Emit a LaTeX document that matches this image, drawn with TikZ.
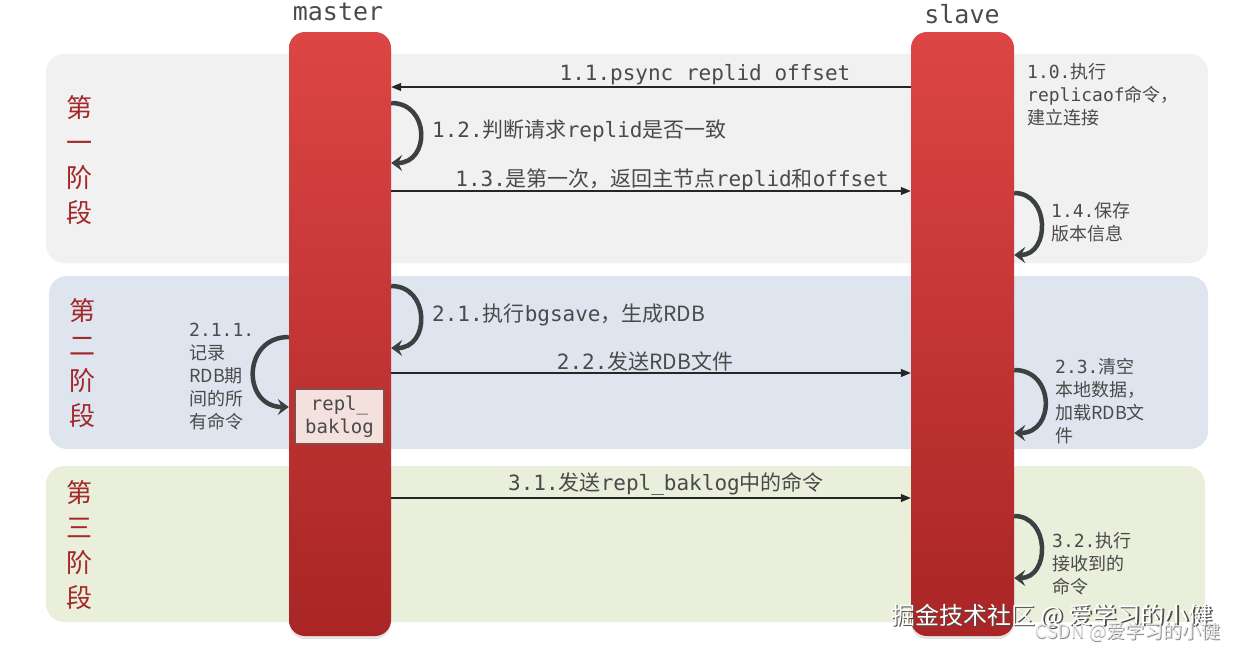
\documentclass[tikz,border=0pt]{standalone}
\usepackage{fontspec}
\setmainfont{DejaVu Sans Mono}
\newfontfamily\cjk{Noto Sans CJK SC}
\newcommand\zh[1]{{\cjk #1}}
\usetikzlibrary{arrows.meta,shadows}
\definecolor{bandA}{HTML}{F1F1F1}
\definecolor{bandB}{HTML}{DEE5EF}
\definecolor{bandC}{HTML}{E9EFDB}
\definecolor{barTop}{HTML}{DC4644}
\definecolor{barBot}{HTML}{A92525}
\definecolor{txt}{HTML}{4A4A4A}
\definecolor{loopc}{HTML}{3B4141}
\definecolor{stagec}{HTML}{A3282A}
\definecolor{logfill}{HTML}{F4E0DC}
\definecolor{logedge}{HTML}{8B4B45}
\tikzset{
  band/.style={rounded corners=18pt, inner sep=0pt, draw=none},
  bar/.style={rounded corners=16pt, minimum width=102pt, minimum height=604pt, inner sep=0pt,
     top color=barTop, bottom color=barBot, draw=none,
     drop shadow={opacity=0.22, shadow xshift=0pt, shadow yshift=-3pt}},
  head/.style={font=\fontsize{25}{28}\selectfont, text=txt, inner sep=0pt},
  stage/.style={font=\cjk\fontsize{26}{35}\selectfont, text=stagec, align=center, inner sep=0pt},
  msglabel/.style={font=\fontsize{21}{24}\selectfont, text=txt, inner sep=0pt},
  sidelabel/.style={font=\fontsize{18}{23}\selectfont, text=txt, align=left, inner sep=0pt, anchor=west},
  msg/.style={draw=black!85, line width=1.1pt, -{Triangle[length=10pt,width=8pt]}},
  loopar/.style={draw=loopc, line width=4.5pt, -{Stealth[length=11pt,width=16pt,inset=4pt]}},
}
\begin{document}
\begin{tikzpicture}[x=1pt,y=-1pt]
\useasboundingbox (0,0) rectangle (1239,649);
% bands
\node[band, fill=bandA, minimum width=1162pt, minimum height=209pt] (b1) at (627,158.5) {};
\node[band, fill=bandB, minimum width=1159pt, minimum height=173pt] (b2) at (628.5,362.5) {};
\node[band, fill=bandC, minimum width=1159pt, minimum height=156pt] (b3) at (625.5,544) {};
% stage labels
\node[stage] (s1) at (79,160) {第\\一\\阶\\段};
\node[stage] (s2) at (82,363) {第\\二\\阶\\段};
\node[stage] (s3) at (79,545) {第\\三\\阶\\段};
% bars
\node[bar] (master) at (340,334) {};
\node[bar, minimum width=103pt] (slave) at (962.5,334) {};
\node[head] (mlab) at (338,12) {master};
\node[head] (slab) at (962,14) {slave};
% repl_baklog
\node[draw=logedge, line width=2.5pt, fill=logfill, minimum width=89pt, minimum height=55pt,
      inner sep=0pt, align=center, text=txt, font=\fontsize{19}{23}\selectfont] (repl) at (339.5,416.5) {repl\_\\baklog};
% phase 1
\draw[msg] (slave.west |- 0,87) -- (master.east |- 0,87);
\node[msglabel] (l11) at (705,75) {1.1.psync replid offset};
\draw[loopar] (master.east |- 0,103) .. controls +(39,0) and +(39,0) .. (master.east |- 0,163);
\node[msglabel, anchor=west] (l12) at (432,131) {1.2.\zh{判断请求}replid\zh{是否一致}};
\draw[msg] (master.east |- 0,191) -- (slave.west |- 0,191);
\node[msglabel] (l13) at (672,180) {1.3.\zh{是第一次，返回主节点}replid\zh{和}offset};
\node[sidelabel] (l10) at (1027,95) {1.0.\zh{执行}\\replicaof\zh{命令，}\\\zh{建立连接}};
\draw[loopar] (slave.east |- 0,193) .. controls +(36,0) and +(36,0) .. (slave.east |- 0,255);
\node[sidelabel] (l14) at (1051,222) {1.4.\zh{保存}\\\zh{版本信息}};
% phase 2
\draw[loopar] (master.east |- 0,286) .. controls +(39,0) and +(39,0) .. (master.east |- 0,348);
\node[msglabel, anchor=west] (l21) at (432,315) {2.1.\zh{执行}bgsave\zh{，生成RDB}};
\draw[msg] (master.east |- 0,373) -- (slave.west |- 0,373);
\node[msglabel] (l22) at (645,361) {2.2.\zh{发送RDB文件}};
\node[sidelabel] (l211) at (189,377) {2.1.1.\\\zh{记录}\\\zh{RDB期}\\\zh{间的所}\\\zh{有命令}};
\draw[loopar] (master.west |- 0,337) .. controls +(-47,0) and +(-47,0) .. (master.west |- 0,407);
\draw[loopar] (slave.east |- 0,370) .. controls +(41,0) and +(41,0) .. (slave.east |- 0,433);
\node[sidelabel] (l23) at (1055,401) {2.3.\zh{清空}\\\zh{本地数据，}\\\zh{加载RDB文}\\\zh{件}};
% phase 3
\draw[msg] (master.east |- 0,498) -- (slave.west |- 0,498);
\node[msglabel] (l31) at (666,484) {3.1.\zh{发送}repl\_baklog\zh{中的命令}};
\draw[loopar] (slave.east |- 0,516) .. controls +(36,0) and +(36,0) .. (slave.east |- 0,578);
\node[sidelabel] (l32) at (1052,564) {3.2.\zh{执行}\\\zh{接收到的}\\\zh{命令}};
% watermark
\node[font=\cjk\fontsize{24}{26}\selectfont, text=black!70, inner sep=0pt] (wm1s) at (1053.5,617.5) {掘金技术社区 @ 爱学习的小健};
\node[font=\cjk\fontsize{24}{26}\selectfont, text=white, inner sep=0pt] (wm1) at (1052,616) {掘金技术社区 @ 爱学习的小健};
\node[font=\cjk\fontsize{19}{21}\selectfont, text=black!45, inner sep=0pt] (wm2s) at (1128.8,632.8) {CSDN @爱学习的小健};
\node[font=\cjk\fontsize{19}{21}\selectfont, text=white!92!black, inner sep=0pt] (wm2) at (1128,632) {CSDN @爱学习的小健};
\end{tikzpicture}
\end{document}
